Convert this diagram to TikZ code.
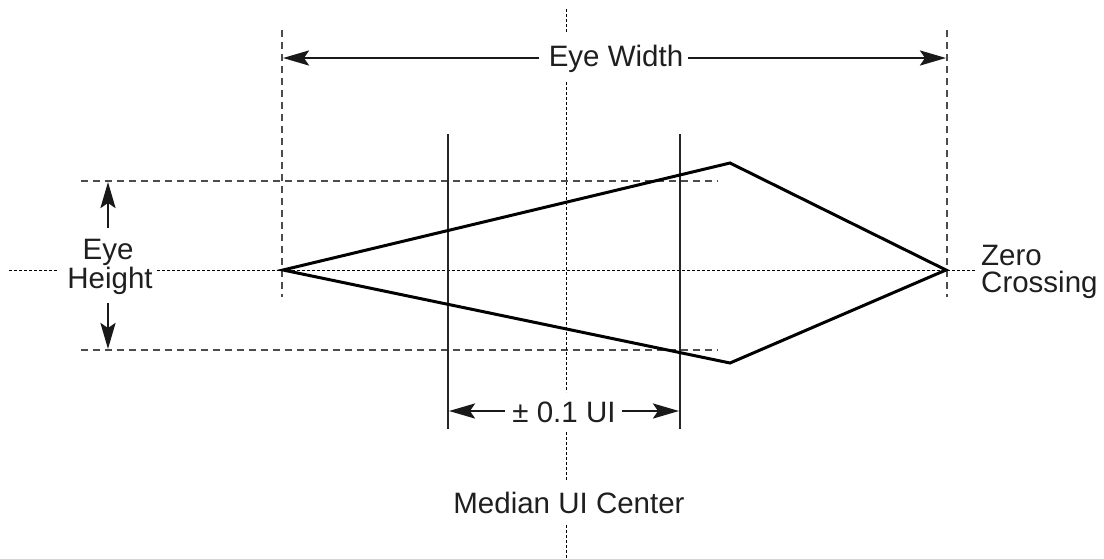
\documentclass[tikz,border=0pt]{standalone}
\usepackage{fontspec}
\setmainfont{Liberation Sans}
\usetikzlibrary{arrows.meta}
\begin{document}
\begin{tikzpicture}[x=1pt,y=-1pt,
  guide/.style={draw=black!70, line width=1.2pt, dash pattern=on 7pt off 5pt},
  axisline/.style={draw=black, line width=0.9pt, dash pattern=on 3pt off 2pt},
  eyeline/.style={draw=black, line width=3pt, line join=miter},
  tickline/.style={draw=black!85, line width=1.3pt},
  dimarrow/.style={draw=black!90, line width=2.6pt, -{Stealth[length=26pt,width=15pt,inset=5pt]}},
  lbl/.style={inner sep=0pt, font=\fontsize{29.5}{29.5}\selectfont, text=black!88}]
\useasboundingbox (0,0) rectangle (1104,558);
% key points
\coordinate (L) at (283,270);
\coordinate (T) at (730,163);
\coordinate (R) at (946,270);
\coordinate (B) at (730,363);
% guide lines
\coordinate (lvt) at (282,30);  \coordinate (lvb) at (282,297);
\coordinate (rvt) at (947,30);  \coordinate (rvb) at (947,297);
\coordinate (hta) at (81,181);  \coordinate (htb) at (718,181);
\coordinate (hba) at (81,350);  \coordinate (hbb) at (718,350);
\draw[guide] (lvt) -- (lvb);
\draw[guide] (rvt) -- (rvb);
\draw[guide] (hta) -- (htb);
\draw[guide] (hba) -- (hbb);
% center axes
\coordinate (c1) at (566,9);   \coordinate (c2) at (566,33);
\coordinate (c3) at (566,82);  \coordinate (c4) at (566,392);
\coordinate (c5) at (566,432); \coordinate (c6) at (566,480);
\coordinate (c7) at (566,525); \coordinate (c8) at (566,558);
\draw[axisline] (c1) -- (c2) (c3) -- (c4) (c5) -- (c6) (c7) -- (c8);
\coordinate (h1) at (9,270);   \coordinate (h2) at (58,270);
\coordinate (h3) at (157,270); \coordinate (h4) at (975,270);
\draw[axisline] (h1) -- (h2) (h3) -- (h4);
% UI tick lines
\coordinate (t1a) at (448,134); \coordinate (t1b) at (448,429);
\coordinate (t2a) at (680,134); \coordinate (t2b) at (680,429);
\draw[tickline] (t1a) -- (t1b);
\draw[tickline] (t2a) -- (t2b);
% eye
\draw[eyeline] (L) -- (T) -- (R) -- (B) -- cycle;
% labels
\node[lbl, anchor=base] (ew) at (616,66) {Eye Width};
\node[lbl, anchor=base] (ui) at (564,422) {± 0.1 UI};
\node[lbl, anchor=base] (med) at (569,513) {Median UI Center};
\node[lbl, anchor=base] (eye1) at (108,259) {Eye};
\node[lbl, anchor=base] (eye2) at (110,288) {Height};
\node[lbl, anchor=base west] (zc1) at (981,265) {Zero};
\node[lbl, anchor=base west] (zc2) at (981,292) {Crossing};
% dimension arrows
\coordinate (ewl) at (539,58); \coordinate (ewlt) at (283,58);
\coordinate (ewr) at (688,58); \coordinate (ewrt) at (946,58);
\draw[dimarrow] (ewl) -- (ewlt);
\draw[dimarrow] (ewr) -- (ewrt);
\coordinate (uil) at (505,411); \coordinate (uilt) at (449,411);
\coordinate (uir) at (622,411); \coordinate (uirt) at (679,411);
\draw[dimarrow] (uil) -- (uilt);
\draw[dimarrow] (uir) -- (uirt);
\coordinate (ehu) at (108,228); \coordinate (ehut) at (108,182);
\coordinate (ehd) at (108,303); \coordinate (ehdt) at (108,349);
\draw[dimarrow] (ehu) -- (ehut);
\draw[dimarrow] (ehd) -- (ehdt);
\end{tikzpicture}
\end{document}
